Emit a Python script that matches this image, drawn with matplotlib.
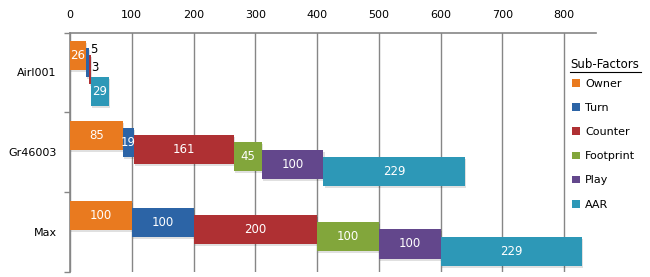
import matplotlib
matplotlib.use("Agg")
import matplotlib.pyplot as plt
from matplotlib.lines import Line2D
from matplotlib.patches import Patch
import numpy as np

categories = ["Airl001", "Gr46003", "Max"]
series_names = ["Owner", "Turn", "Counter", "Footprint", "Play", "AAR"]
owner = [26, 85, 100]
turn = [5, 19, 100]
counter = [3, 161, 200]
footprint = [0, 45, 100]
play = [0, 100, 100]
aar = [29, 229, 229]
x_ticks = [0, 100, 200, 300, 400, 500, 600, 700, 800]

colors = ["#E97A1F", "#2C64A6", "#AF3033", "#82A63B", "#63478C", "#2D98B7"]

values = np.array([owner, turn, counter, footprint, play, aar], dtype=float)  # series x category
lefts = np.vstack([np.zeros(values.shape[1]), np.cumsum(values, axis=0)[:-1]])

fig = plt.figure(figsize=(6.5, 2.77), dpi=100)
ax = fig.add_axes([70/650, 1-272/277, (595.7-70)/650, (272-32.5)/277])

top_off = 0.107
step = 0.090
bar_h = 0.364

# label nudges for tiny values (layout only)
small_nudge = {(0, 1): -0.17, (0, 2): -0.03}

for j in range(values.shape[0]):
    for i in range(values.shape[1]):
        v = values[j, i]
        if v <= 0:
            continue
        y0 = i + top_off + j * step
        # shadow
        ax.barh(y0 + 0.025, v, left=lefts[j, i] + 2, height=bar_h, align="edge",
                color="#000000", alpha=0.12, linewidth=0, zorder=2)
        ax.barh(y0, v, left=lefts[j, i], height=bar_h, align="edge",
                color=colors[j], linewidth=0, zorder=3)
        cy = y0 + bar_h / 2
        if v < 10:
            ax.text(lefts[j, i] + v + 1, cy + small_nudge.get((i, j), 0), f"{int(v)}",
                    ha="left", va="center", fontsize=8.5, color="black", zorder=5)
        else:
            ax.text(lefts[j, i] + v / 2, cy, f"{int(v)}", ha="center", va="center",
                    fontsize=8.5, color="white", zorder=5)

ax.set_xlim(0, 851)
ax.set_ylim(3, 0)

ax.xaxis.tick_top()
ax.set_xticks(x_ticks)
ax.set_xticklabels([str(t) for t in x_ticks])
ax.tick_params(axis="x", length=0, pad=9, labelsize=8)
ax.grid(axis="x", color="#868686", linewidth=1.0, zorder=0)
ax.set_axisbelow(True)

ax.set_yticks([0.5, 1.5, 2.5])
ax.set_yticklabels(categories)
ax.set_yticks([0, 1, 2, 3], minor=True)
ax.tick_params(axis="y", which="major", length=0, pad=9.5, labelsize=8)
ax.tick_params(axis="y", which="minor", length=4, color="#868686", width=1)

for s in ["right", "bottom"]:
    ax.spines[s].set_visible(False)
for s in ["top", "left"]:
    ax.spines[s].set_color("#868686")
    ax.spines[s].set_linewidth(1.2)

# legend
handles = [Patch(facecolor=c, edgecolor="none") for c in colors]
leg = fig.legend(handles, series_names, loc="upper left",
                 bbox_to_anchor=(572/650, 1-79/277), frameon=False, fontsize=8,
                 handlelength=0.7, handleheight=0.7, handletextpad=0.5,
                 labelspacing=1.27, borderpad=0, borderaxespad=0)
fig.text(570/650, 1-64/277, "Sub-Factors", fontsize=8.5, ha="left", va="center")
fig.add_artist(Line2D([570/650, 641/650], [1-71.5/277, 1-71.5/277],
                      color="black", linewidth=0.8, transform=fig.transFigure))

fig.savefig("out.png", dpi=100)
